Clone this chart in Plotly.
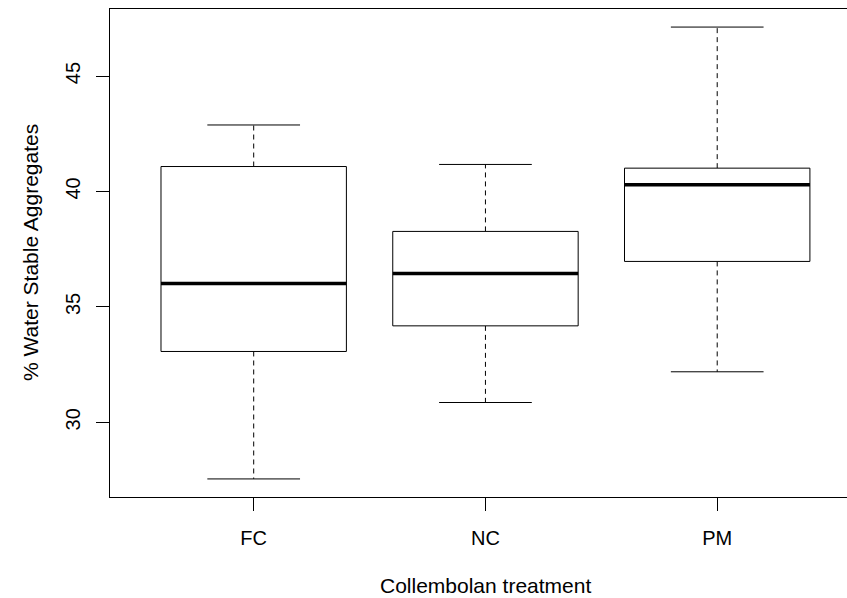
import plotly.graph_objects as go

# ---- data ----
categories = ["FC", "NC", "PM"]
lower_whisker = [27.55, 30.86, 32.19]
q1_values = [33.07, 34.18, 36.97]
medians = [36.01, 36.45, 40.29]
q3_values = [41.08, 38.27, 41.01]
upper_whisker = [42.88, 41.17, 47.12]
y_ticks = [30, 35, 40, 45]

x_title = "Collembolan treatment"
y_title = "% Water Stable Aggregates"

FONT = "Liberation Sans, Arial, Helvetica, sans-serif"
BOX_HALF = 0.4     # R default boxwex 0.8
CAP_HALF = 0.2     # staplewex 0.5

fig = go.Figure()

for i, cat in enumerate(categories):
    x0 = i + 1
    lo, q1, med, q3, hi = lower_whisker[i], q1_values[i], medians[i], q3_values[i], upper_whisker[i]
    # dashed whiskers
    fig.add_trace(go.Scatter(x=[x0, x0, None, x0, x0], y=[q3, hi, None, q1, lo],
                             mode="lines", line=dict(color="#000000", width=1, dash="5px,4px"),
                             hoverinfo="skip", showlegend=False))
    # staples
    fig.add_trace(go.Scatter(x=[x0 - CAP_HALF, x0 + CAP_HALF, None, x0 - CAP_HALF, x0 + CAP_HALF],
                             y=[hi, hi, None, lo, lo],
                             mode="lines", line=dict(color="#000000", width=1),
                             hoverinfo="skip", showlegend=False))
    # box
    fig.add_trace(go.Scatter(x=[x0 - BOX_HALF, x0 + BOX_HALF, x0 + BOX_HALF, x0 - BOX_HALF, x0 - BOX_HALF],
                             y=[q1, q1, q3, q3, q1],
                             mode="lines", fill="toself", fillcolor="white",
                             line=dict(color="#000000", width=1),
                             hoverinfo="skip", showlegend=False))
    # median
    fig.add_trace(go.Scatter(x=[x0 - BOX_HALF, x0 + BOX_HALF], y=[med, med],
                             mode="lines", line=dict(color="#000000", width=3.5),
                             hoverinfo="skip", showlegend=False))

ymin = min(lower_whisker)
ymax = max(upper_whisker)
pad = 0.04 * (ymax - ymin)

fig.update_layout(
    width=847, height=598,
    margin=dict(l=110, r=0, t=9, b=101),
    paper_bgcolor="white", plot_bgcolor="white",
    font=dict(family=FONT, size=20, color="#000000"),
    showlegend=False,
    xaxis=dict(
        range=[0.38, 3.56],
        tickmode="array", tickvals=[1, 2, 3], ticktext=categories,
        showgrid=False, zeroline=False,
        showline=True, linecolor="#000000", linewidth=1, mirror=True,
        ticks="outside", ticklen=13, tickcolor="#000000", tickwidth=1,
        ticklabelstandoff=10,
        tickfont=dict(family=FONT, size=20, color="#000000"),
    ),
    yaxis=dict(
        range=[ymin - pad, ymax + pad],
        tickmode="array", tickvals=y_ticks, ticktext=[str(t) for t in y_ticks],
        tickangle=-90,
        showgrid=False, zeroline=False,
        showline=True, linecolor="#000000", linewidth=1, mirror=False,
        ticks="outside", ticklen=13, tickcolor="#000000", tickwidth=1,
        ticklabelstandoff=8,
        tickfont=dict(family=FONT, size=20, color="#000000"),
    ),
    annotations=[
        dict(text=x_title, xref="paper", yref="paper", x=(485 - 110) / 737, y=0,
             yshift=-(585 - 497), xanchor="center", yanchor="middle", showarrow=False,
             borderpad=0,
             font=dict(family=FONT, size=21, color="#000000")),
        dict(text=y_title, xref="paper", yref="paper", x=0, y=0.5, xshift=-(110 - 30),
             xanchor="center", yanchor="middle", textangle=-90, showarrow=False,
             borderpad=0,
             font=dict(family=FONT, size=21, color="#000000")),
    ],
)

fig.write_html("out.html")
